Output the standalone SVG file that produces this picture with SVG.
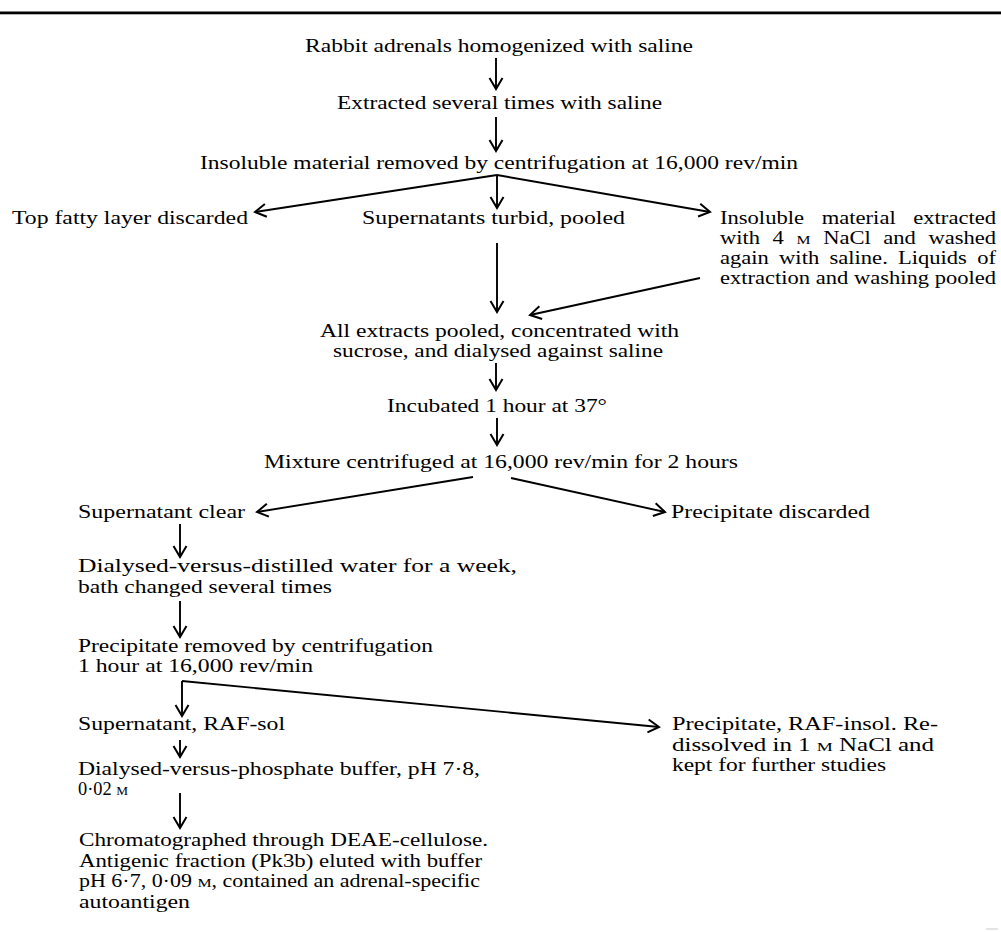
<svg xmlns="http://www.w3.org/2000/svg" width="1001" height="932" viewBox="0 0 1001 932">
<style>
text{font-family:"Liberation Serif","Times New Roman",serif;font-size:18px;fill:#000}
.sc{font-size:13px}
.c line{stroke:#000;stroke-width:1.9;fill:none;marker-end:url(#ah)}
</style>
<defs>
<marker id="ah" markerWidth="16" markerHeight="16" refX="12" refY="8" orient="auto" markerUnits="userSpaceOnUse" viewBox="0 0 16 16"><path d="M1,1.5 L12,8 L1,14.5" fill="none" stroke="#000" stroke-width="2"/></marker>
</defs>
<rect width="1001" height="932" fill="#fff"/>
<rect x="0" y="11.5" width="1001" height="2.8" fill="#000"/>
<line x1="986" y1="929" x2="998" y2="929" stroke="#c8c8c8" stroke-width="1"/>

<g id="n1"><text x="305" y="52" textLength="388" lengthAdjust="spacingAndGlyphs">Rabbit adrenals homogenized with saline</text></g>
<g id="n2"><text x="337" y="109" textLength="325" lengthAdjust="spacingAndGlyphs">Extracted several times with saline</text></g>
<g id="n3"><text x="200" y="169" textLength="598" lengthAdjust="spacingAndGlyphs">Insoluble material removed by centrifugation at 16,000 rev/min</text></g>
<g id="n4"><text x="12" y="224" textLength="236" lengthAdjust="spacingAndGlyphs">Top fatty layer discarded</text></g>
<g id="n5"><text x="362" y="224" textLength="263" lengthAdjust="spacingAndGlyphs">Supernatants turbid, pooled</text></g>
<g id="n6">
<text x="720" y="223.5" textLength="84" lengthAdjust="spacingAndGlyphs">Insoluble</text>
<text x="821.7" y="223.5" textLength="74" lengthAdjust="spacingAndGlyphs">material</text>
<text x="913.3" y="223.5" textLength="82.7" lengthAdjust="spacingAndGlyphs">extracted</text>
<text x="720" y="243.5" textLength="40" lengthAdjust="spacingAndGlyphs">with</text>
<text x="772.6" y="243.5" textLength="11.3" lengthAdjust="spacingAndGlyphs">4</text>
<text x="796.4" y="243.5" class="sc" textLength="14" lengthAdjust="spacingAndGlyphs">M</text>
<text x="823.2" y="243.5" textLength="47.6" lengthAdjust="spacingAndGlyphs">NaCl</text>
<text x="883.3" y="243.5" textLength="32.6" lengthAdjust="spacingAndGlyphs">and</text>
<text x="928.4" y="243.5" textLength="67.6" lengthAdjust="spacingAndGlyphs">washed</text>
<text x="720" y="263.5" textLength="48.9" lengthAdjust="spacingAndGlyphs">again</text>
<text x="779.1" y="263.5" textLength="40.1" lengthAdjust="spacingAndGlyphs">with</text>
<text x="829.5" y="263.5" textLength="58.3" lengthAdjust="spacingAndGlyphs">saline.</text>
<text x="898" y="263.5" textLength="68.9" lengthAdjust="spacingAndGlyphs">Liquids</text>
<text x="977.2" y="263.5" textLength="18.8" lengthAdjust="spacingAndGlyphs">of</text>
<text x="720" y="283.5" textLength="276" lengthAdjust="spacingAndGlyphs">extraction and washing pooled</text>
</g>
<g id="n7">
<text x="320" y="337" textLength="359" lengthAdjust="spacingAndGlyphs">All extracts pooled, concentrated with</text>
<text x="333" y="357" textLength="330" lengthAdjust="spacingAndGlyphs">sucrose, and dialysed against saline</text>
</g>
<g id="n8"><text x="387" y="412" textLength="220" lengthAdjust="spacingAndGlyphs">Incubated 1 hour at 37°</text></g>
<g id="n9"><text x="264" y="468" textLength="474" lengthAdjust="spacingAndGlyphs">Mixture centrifuged at 16,000 rev/min for 2 hours</text></g>
<g id="n10"><text x="78" y="518" textLength="167" lengthAdjust="spacingAndGlyphs">Supernatant clear</text></g>
<g id="n11"><text x="671" y="518" textLength="199" lengthAdjust="spacingAndGlyphs">Precipitate discarded</text></g>
<g id="n12">
<text x="78" y="572" textLength="439" lengthAdjust="spacingAndGlyphs">Dialysed-versus-distilled water for a week,</text>
<text x="78" y="593" textLength="254" lengthAdjust="spacingAndGlyphs">bath changed several times</text>
</g>
<g id="n13">
<text x="78" y="652" textLength="355" lengthAdjust="spacingAndGlyphs">Precipitate removed by centrifugation</text>
<text x="78" y="672" textLength="235" lengthAdjust="spacingAndGlyphs">1 hour at 16,000 rev/min</text>
</g>
<g id="n14"><text x="78" y="730" textLength="207" lengthAdjust="spacingAndGlyphs">Supernatant, RAF-sol</text></g>
<g id="n15">
<text x="672" y="730" textLength="266" lengthAdjust="spacingAndGlyphs">Precipitate, RAF-insol. Re-</text>
<text x="672" y="750.5" textLength="262" lengthAdjust="spacingAndGlyphs">dissolved in 1 <tspan class="sc">M</tspan> NaCl and</text>
<text x="672" y="771" textLength="214" lengthAdjust="spacingAndGlyphs">kept for further studies</text>
</g>
<g id="n16">
<text x="78" y="775" textLength="402" lengthAdjust="spacingAndGlyphs">Dialysed-versus-phosphate buffer, pH 7·8,</text>
<text x="78" y="795" textLength="50" lengthAdjust="spacingAndGlyphs">0·02 <tspan class="sc">M</tspan></text>
</g>
<g id="n17">
<text x="79" y="846" textLength="409" lengthAdjust="spacingAndGlyphs">Chromatographed through DEAE-cellulose.</text>
<text x="79" y="866.7" textLength="403" lengthAdjust="spacingAndGlyphs">Antigenic fraction (Pk3b) eluted with buffer</text>
<text x="79" y="887.4" textLength="401" lengthAdjust="spacingAndGlyphs">pH 6·7, 0·09 <tspan class="sc">M</tspan>, contained an adrenal-specific</text>
<text x="79" y="908" textLength="111" lengthAdjust="spacingAndGlyphs">autoantigen</text>
</g>

<g id="connectors" class="c">
<line x1="496" y1="58" x2="496" y2="89"/>
<line x1="496" y1="117" x2="496" y2="151"/>
<line x1="497" y1="175" x2="255" y2="212"/>
<line x1="497" y1="175" x2="497" y2="208"/>
<line x1="497" y1="175" x2="710" y2="212"/>
<line x1="497" y1="243" x2="497" y2="312"/>
<line x1="700" y1="278" x2="530" y2="315"/>
<line x1="496" y1="363" x2="496" y2="390"/>
<line x1="497" y1="418" x2="497" y2="445"/>
<line x1="473" y1="477" x2="257" y2="512"/>
<line x1="511" y1="478" x2="665" y2="512"/>
<line x1="180" y1="524" x2="180" y2="557"/>
<line x1="180" y1="601" x2="180" y2="637"/>
<line x1="182" y1="681" x2="182" y2="716"/>
<line x1="182" y1="681" x2="659" y2="727"/>
<line x1="180" y1="740" x2="180" y2="757"/>
<line x1="180" y1="793" x2="180" y2="828"/>
</g>
</svg>
